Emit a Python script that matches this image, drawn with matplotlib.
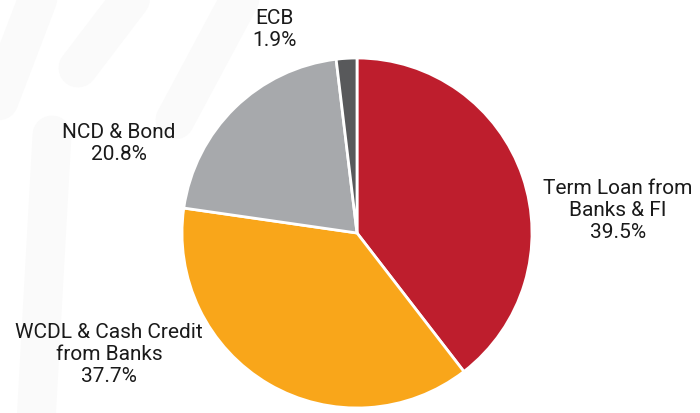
import matplotlib.pyplot as plt

plt.rcParams['font.family'] = ['Roboto', 'DejaVu Sans']

labels = ['Term Loan from\nBanks & FI', 'WCDL & Cash Credit\nfrom Banks', 'NCD & Bond', 'ECB']
shares = [39.5, 37.7, 20.8, 1.9]
colors = ['#BE1E2D', '#F9A61A', '#A7A9AC', '#58595B']

# label anchor points (pixel coords, y measured from top)
label_pos = [(618, 211), (109, 355), (119, 143), (274, 30)]

fig = plt.figure(figsize=(7, 4.13), dpi=100)
ax = fig.add_axes([0, 0, 1, 1])

# very faint background bands
bands = [
    [(45, -20), (-35, 190)],
    [(145, -20), (78, 68)],
    [(52, 135), (35, 440)],
    [(250, -20), (175, 120)],
]
for b in bands:
    xs = [p[0] for p in b]
    ys = [413 - p[1] for p in b]
    ax.plot(xs, ys, color='#FAFAFA', lw=28, solid_capstyle='round', zorder=0)

ax.pie(shares, colors=colors, startangle=90, counterclock=False,
       center=(357, 413 - 233), radius=175,
       wedgeprops=dict(edgecolor='white', linewidth=2))
ax.set_xlim(0, 700)
ax.set_ylim(0, 413)
ax.set_aspect('equal')
ax.axis('off')

for lab, val, (x, y) in zip(labels, shares, label_pos):
    ax.text(x, 413 - y, f'{lab}\n{val}%', ha='center', va='center',
            fontsize=15, linespacing=1.2, color='#1a1a1a')

fig.savefig('out.png', dpi=100, facecolor='white')
